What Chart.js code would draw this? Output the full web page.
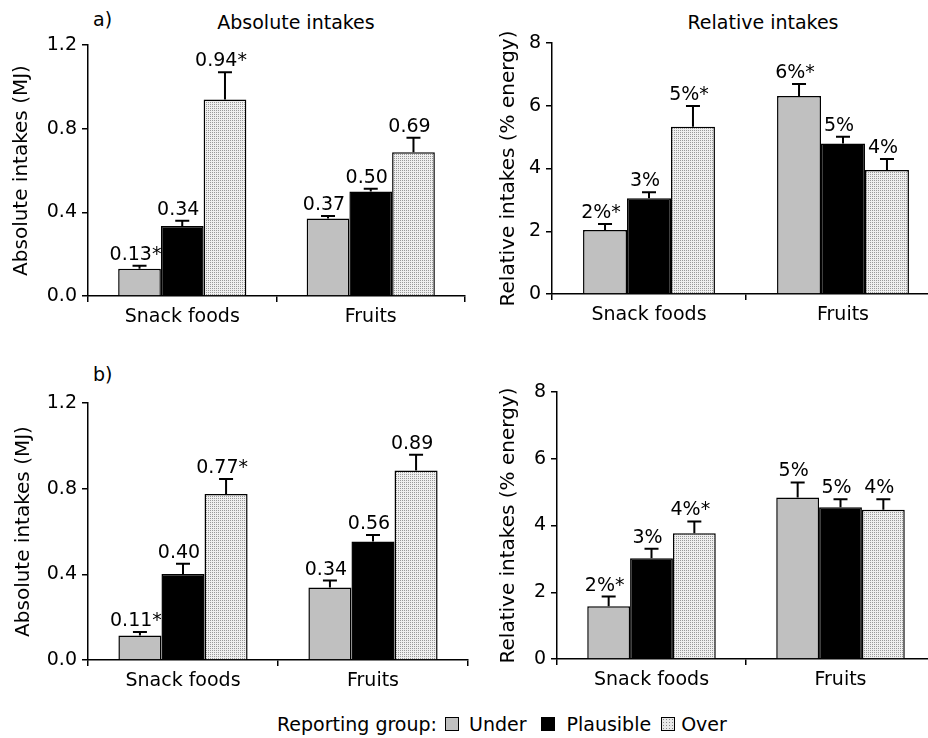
<!DOCTYPE html>
<html>
<head>
<meta charset="utf-8">
<script src="https://cdn.jsdelivr.net/npm/chart.js@4.4.0/dist/chart.umd.min.js"></script>
<style>
body{margin:0;background:#fff;width:928px;height:738px;overflow:hidden;position:relative;font-family:"DejaVu Sans";color:#000}
.pan{position:absolute}
.txt{position:absolute;font-size:19px;white-space:nowrap;line-height:22px}
.sw{display:inline-block;width:12px;height:12px;border:1px solid #000;box-sizing:content-box}
#legend{position:absolute;left:277px;top:713px;font-size:19px;display:flex;align-items:center;white-space:nowrap}
</style>
</head>
<body>
<div class="txt" style="left:93px;top:8px">a)</div>
<div class="txt" style="left:296px;top:11px;transform:translateX(-50%)">Absolute intakes</div>
<div class="txt" style="left:763px;top:11px;transform:translateX(-50%)">Relative intakes</div>
<div class="txt" style="left:93px;top:363px">b)</div>

<canvas id="c1" class="pan"></canvas>
<canvas id="c2" class="pan"></canvas>
<canvas id="c3" class="pan"></canvas>
<canvas id="c4" class="pan"></canvas>

<div id="legend">
  <span>Reporting group:</span>
  <i class="sw" style="background:#c0c0c0;margin-left:8px"></i><span style="margin-left:10px">Under</span>
  <i class="sw" style="background:#000;margin-left:14px"></i><span style="margin-left:12px">Plausible</span>
  <i class="sw" style="background-color:#e8e8e8;background-image:radial-gradient(#888 0.6px,transparent 0.7px);background-size:3px 3px;margin-left:10px"></i><span style="margin-left:6px">Over</span>
</div>

<script>
// Daten
const categories = ['Snack foods', 'Fruits'];
const groups = ['Under', 'Plausible', 'Over'];

// a) absolute (MJ): Under, Plausible, Over
const absAMeans = [[0.13, 0.37], [0.335, 0.50], [0.94, 0.687]];
const absAErrors = [[0.015, 0.012], [0.025, 0.013], [0.13, 0.07]];
const absALabels = [['0.13*', '0.37'], ['0.34', '0.50'], ['0.94*', '0.69']];

// a) relative (% energy)
const relAMeans = [[2.04, 6.31], [3.05, 4.8], [5.33, 3.95]];
const relAErrors = [[0.19, 0.38], [0.19, 0.21], [0.66, 0.35]];
const relALabels = [['2%*', '6%*'], ['3%', '5%'], ['5%*', '4%']];

// b) absolute (MJ)
const absBMeans = [[0.114, 0.338], [0.402, 0.553], [0.775, 0.885]];
const absBErrors = [[0.017, 0.033], [0.047, 0.031], [0.07, 0.073]];
const absBLabels = [['0.11*', '0.34'], ['0.40', '0.56'], ['0.77*', '0.89']];

// b) relative (% energy)
const relBMeans = [[1.58, 4.84], [3.02, 4.55], [3.77, 4.47]];
const relBErrors = [[0.29, 0.45], [0.28, 0.24], [0.35, 0.32]];
const relBLabels = [['2%*', '5%'], ['3%', '5%'], ['4%*', '4%']];

const absTicks = [0, 0.4, 0.8, 1.2];
const relTicks = [0, 2, 4, 6, 8];

// Muster für "Over"
function stipple() {
  const c = document.createElement('canvas');
  c.width = 2; c.height = 2;
  const g = c.getContext('2d');
  g.fillStyle = '#efefef'; g.fillRect(0, 0, 2, 2);
  g.fillStyle = '#999999'; g.fillRect(0, 0, 1, 1);
  return g.createPattern(c, 'repeat');
}
const fills = ['#c0c0c0', '#000000', stipple()];

// Fehlerbalken + Beschriftung
const errPlugin = {
  id: 'errbars',
  afterDatasetsDraw(chart) {
    const ctx = chart.ctx, y = chart.scales.y;
    chart.data.datasets.forEach((ds, i) => {
      chart.getDatasetMeta(i).data.forEach((bar, j) => {
        const top = y.getPixelForValue(ds.data[j] + ds.errors[j]);
        ctx.save();
        ctx.strokeStyle = '#000'; ctx.lineWidth = 2;
        ctx.beginPath();
        ctx.moveTo(bar.x, bar.y); ctx.lineTo(bar.x, top);
        ctx.moveTo(bar.x - 7, top); ctx.lineTo(bar.x + 7, top);
        ctx.stroke();
        ctx.fillStyle = '#000';
        ctx.font = '19px "DejaVu Sans"';
        ctx.textAlign = 'center'; ctx.textBaseline = 'alphabetic';
        ctx.fillText(ds.valueLabels[j], bar.x - 4, top - 6);
        ctx.restore();
      });
    });
  }
};

function panel(id, pos, area, means, errors, labels, ticks, digits, yTitle, titlePad) {
  const cv = document.getElementById(id);
  cv.width = pos.w; cv.height = pos.h;
  cv.style.left = pos.x + 'px'; cv.style.top = pos.y + 'px';
  return new Chart(cv.getContext('2d'), {
    type: 'bar',
    data: {
      labels: categories,
      datasets: groups.map((g, i) => ({
        label: g,
        data: means[i],
        errors: errors[i],
        valueLabels: labels[i],
        backgroundColor: fills[i],
        borderColor: '#000',
        borderWidth: 1.5,
        categoryPercentage: 0.68,
        barPercentage: 1
      }))
    },
    options: {
      responsive: false,
      animation: false,
      layout: { padding: { left: 0, top: area.t, right: pos.w - area.r, bottom: 0 } },
      plugins: { legend: { display: false }, tooltip: { enabled: false } },
      scales: {
        x: {
          afterFit: s => { s.height = pos.h - area.b; },
          grid: { drawOnChartArea: false, color: '#000', tickLength: 6, lineWidth: 1.5 },
          border: { color: '#000', width: 1.5 },
          ticks: { color: '#000', font: { family: 'DejaVu Sans', size: 19 }, padding: 4 }
        },
        y: {
          min: ticks[0], max: ticks[ticks.length - 1],
          afterFit: s => { s.width = area.l; },
          afterBuildTicks: s => { s.ticks = ticks.map(v => ({ value: v })); },
          grid: { drawOnChartArea: false, color: '#000', tickLength: 6, lineWidth: 1.5 },
          border: { color: '#000', width: 1.5 },
          ticks: { color: '#000', font: { family: 'DejaVu Sans', size: 19 }, padding: 5,
                   callback: v => Number(v).toFixed(digits) },
          title: { display: true, text: yTitle, color: '#000',
                   font: { family: 'DejaVu Sans', size: 20 }, padding: { top: titlePad, bottom: 0 } }
        }
      }
    },
    plugins: [errPlugin]
  });
}

panel('c1', { x: 0, y: 0, w: 470, h: 340 }, { l: 88, r: 465, t: 45, b: 296 },
  absAMeans, absAErrors, absALabels, absTicks, 1, 'Absolute intakes (MJ)', 10);
panel('c2', { x: 470, y: 0, w: 470, h: 340 }, { l: 82, r: 470, t: 43, b: 294 },
  relAMeans, relAErrors, relALabels, relTicks, 0, 'Relative intakes (% energy)', 27);
panel('c3', { x: 0, y: 340, w: 470, h: 360 }, { l: 88, r: 468, t: 63, b: 320 },
  absBMeans, absBErrors, absBLabels, absTicks, 1, 'Absolute intakes (MJ)', 12);
panel('c4', { x: 470, y: 340, w: 470, h: 360 }, { l: 87, r: 465, t: 52, b: 319 },
  relBMeans, relBErrors, relBLabels, relTicks, 0, 'Relative intakes (% energy)', 27);
</script>
</body>
</html>
